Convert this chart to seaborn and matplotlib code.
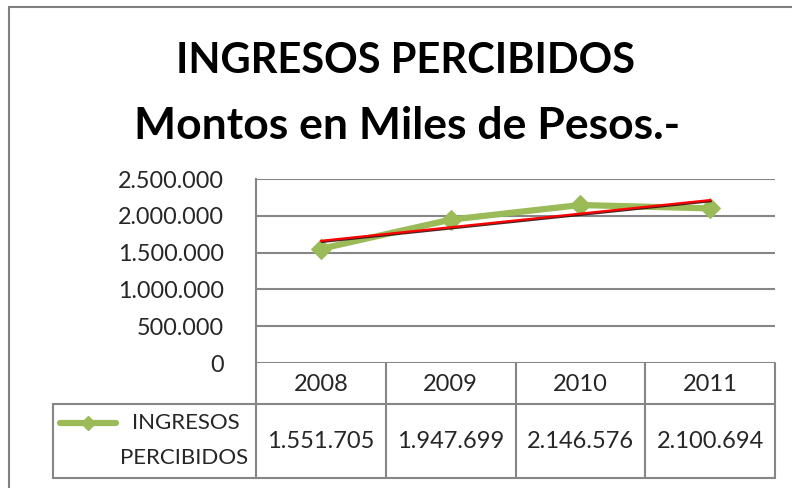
import numpy as np
import matplotlib.pyplot as plt
import matplotlib.patheffects as pe
from matplotlib.lines import Line2D
from matplotlib.patches import Rectangle
from matplotlib.transforms import blended_transform_factory
import seaborn as sns

# data
years = ['2008', '2009', '2010', '2011']
ingresos = [1551705, 1947699, 2146576, 2100694]
value_labels = ['1.551.705', '1.947.699', '2.146.576', '2.100.694']
y_ticks = [0, 500000, 1000000, 1500000, 2000000, 2500000]
y_tick_labels = ['0', '500.000', '1.000.000', '1.500.000', '2.000.000', '2.500.000']
series_name = 'INGRESOS PERCIBIDOS'

GREEN = '#9BBB59'
GRID = '#868686'
W, H = 792, 488

sns.set_theme(style='white')
plt.rcParams['font.family'] = ['Lato', 'DejaVu Sans']


def fx(px):
    return px / W


def fy(py):
    return 1 - py / H


fig = plt.figure(figsize=(W / 100, H / 100), dpi=100)
fig.patch.set_facecolor('white')

# outer chart border (runs off right/bottom edges)
fig.add_artist(Rectangle((fx(9), fy(520)), fx(820), fy(7) - fy(520),
                         transform=fig.transFigure, fill=False,
                         edgecolor='#808080', lw=1.5))

# titles
fig.text(fx(406), fy(61), 'INGRESOS PERCIBIDOS', ha='center', va='center',
         fontsize=30, fontweight='bold', color='black')
fig.text(fx(407), fy(126), 'Montos en Miles de Pesos.-', ha='center', va='center',
         fontsize=32, fontweight='bold', color='black')

# plot area
left, right, top, bottom = 256, 775, 179, 363
ax = fig.add_axes([fx(left), fy(bottom), fx(right - left), fy(top) - fy(bottom)])
x_pos = np.arange(len(years))

sns.lineplot(x=x_pos, y=ingresos, ax=ax, color=GREEN, lw=4.5,
             marker='D', markersize=10, markeredgecolor=GREEN, zorder=3)

# linear trend line
sns.regplot(x=x_pos, y=ingresos, ax=ax, ci=None, scatter=False, truncate=True,
            line_kws=dict(color='#FF0000', lw=1.6, zorder=4,
                          path_effects=[pe.SimpleLineShadow(offset=(0.6, -0.8), shadow_color='#3a1010',
                                                            alpha=0.9),
                                        pe.Normal()]))

ax.set_xlim(-0.5, len(years) - 0.5)
ax.set_ylim(0, 2500000)
ax.set_yticks(y_ticks)
ax.set_yticklabels(y_tick_labels, fontsize=16.8)
ax.set_xticks([])
ax.set_xlabel('')
ax.set_ylabel('')
ax.tick_params(axis='y', length=0, pad=23)
for t in y_ticks:
    ax.axhline(t, color=GRID, lw=1.5, zorder=1)
for s in ['top', 'right', 'bottom']:
    ax.spines[s].set_visible(False)
ax.spines['left'].set_color(GRID)
ax.spines['left'].set_linewidth(1.5)

# data table below the axis
tr = blended_transform_factory(ax.transData, fig.transFigure)
line_kw = dict(color=GRID, lw=1.5, clip_on=False)
hdr_bot, tbl_bot = 404, 478
for i in range(len(years) + 1):
    xb = i - 0.5
    ax.plot([xb, xb], [fy(bottom), fy(tbl_bot)], transform=tr, **line_kw)
ax.plot([-0.5, len(years) - 0.5], [fy(hdr_bot), fy(hdr_bot)], transform=tr, **line_kw)
ax.plot([-0.5, len(years) - 0.5], [fy(tbl_bot), fy(tbl_bot)], transform=tr, **line_kw)
for i, (yr, lab) in enumerate(zip(years, value_labels)):
    ax.text(i, fy((bottom + hdr_bot) / 2 + 1), yr, transform=tr, ha='center',
            va='center', fontsize=17)
    ax.text(i, fy((hdr_bot + tbl_bot) / 2), lab, transform=tr, ha='center',
            va='center', fontsize=17)

# legend cell
fig.add_artist(Line2D([fx(53), fx(left)], [fy(hdr_bot), fy(hdr_bot)],
                      transform=fig.transFigure, color=GRID, lw=1.5))
fig.add_artist(Line2D([fx(53), fx(left)], [fy(tbl_bot), fy(tbl_bot)],
                      transform=fig.transFigure, color=GRID, lw=1.5))
fig.add_artist(Line2D([fx(53), fx(53)], [fy(hdr_bot), fy(tbl_bot)],
                      transform=fig.transFigure, color=GRID, lw=1.5))
fig.add_artist(Line2D([fx(60), fx(88), fx(116)], [fy(423)] * 3,
                      transform=fig.transFigure, color=GREEN, lw=4.5,
                      marker='D', markersize=7, markevery=[1]))
name1, name2 = series_name.split(' ')
fig.text(fx(186), fy(423), name1, ha='center', va='center', fontsize=16)
fig.text(fx(184), fy(458), name2, ha='center', va='center', fontsize=16)

fig.savefig('out.png', dpi=100)
